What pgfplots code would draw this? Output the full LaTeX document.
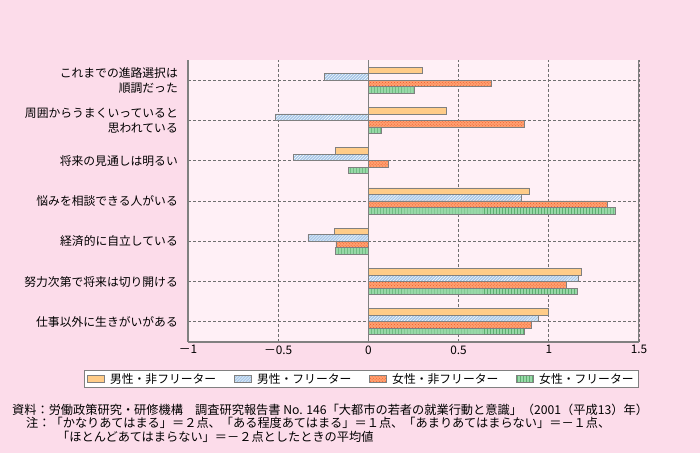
\documentclass[border=0pt]{standalone}
\usepackage{pgfplots}
\pgfplotsset{compat=1.18}
\usetikzlibrary{patterns}
\usepackage{fontspec}
\setmainfont{Noto Sans CJK JP}
\definecolor{pagebg}{HTML}{FCDCEA}
\definecolor{plotbg}{HTML}{FFF0F6}
\definecolor{c1}{HTML}{FFCC88}
\definecolor{c2}{HTML}{A8C8E8}
\definecolor{c3}{HTML}{FFA070}
\definecolor{c3d}{HTML}{EE5A2A}
\definecolor{c4}{HTML}{98D8A8}
\definecolor{c4d}{HTML}{5DAF70}
\definecolor{edge}{HTML}{808080}
\definecolor{gridc}{HTML}{707070}
\newcommand{\lblfont}{\fontsize{11.8bp}{15bp}\selectfont}
\newcommand{\notefont}{\fontsize{12.2bp}{15bp}\selectfont}
\begin{document}
\begin{tikzpicture}[x=1bp,y=1bp]
\fill[pagebg] (0,0) rectangle (700,453);
\begin{axis}[
  at={(188bp,111bp)}, anchor=south west, scale only axis,
  width=451bp, height=282bp,
  xmin=-1, xmax=1.5, ymin=-0.5, ymax=6.5,
  axis background/.style={fill=plotbg},
  axis x line*=bottom, axis y line*=left,
  axis line style={edge, line width=1.2bp},
  xbar, bar width=6.5bp,
  xtick={-1,-0.5,0,0.5,1,1.5},
  xticklabels={－1,－0.5,0,0.5,1,1.5},
  ytick={0,1,2,3,4,5,6},
  yticklabels={{仕事以外に生きがいがある},{努力次第で将来は切り開ける},{経済的に自立している},{悩みを相談できる人がいる},{将来の見通しは明るい},{周囲からうまくいっていると\\思われている},{これまでの進路選択は\\順調だった}},
  yticklabel style={align=right, font=\lblfont, inner sep=0pt, xshift=-10bp},
  xticklabel style={font=\lblfont},
  major tick length=0pt,
  grid=major,
  major grid style={gridc, dash pattern=on 3bp off 2bp, line width=0.8bp},
  legend image code/.code={\draw[#1] (0bp,-3.5bp) rectangle (17bp,3.5bp);},
  legend columns=4,
  legend style={at={(1,-0.0993)}, anchor=north east, draw=edge, fill=white,
    line width=0.8bp, font=\lblfont, inner xsep=3bp, inner ysep=1bp,
    /tikz/every odd column/.append style={column sep=3bp},
    /tikz/every even column/.append style={column sep=16bp}},
]
\draw[edge, line width=1bp] (axis cs:0,-0.5) -- (axis cs:0,6.5);
\draw[edge, line width=1.2bp] (rel axis cs:1,0) -- (rel axis cs:1,1);
\addplot[fill=c1, draw=edge, line width=0.8bp, bar shift=9.75bp]
  coordinates {(0.30,6) (0.43,5) (-0.185,4) (0.89,3) (-0.19,2) (1.18,1) (1.00,0)};
\addplot[fill=c2, draw=edge, line width=0.8bp, bar shift=3.25bp,
  postaction={pattern=north east lines, pattern color=white}]
  coordinates {(-0.245,6) (-0.515,5) (-0.415,4) (0.85,3) (-0.335,2) (1.165,1) (0.94,0)};
\addplot[fill=c3, draw=edge, line width=0.8bp, bar shift=-3.25bp,
  postaction={pattern=crosshatch dots, pattern color=c3d}]
  coordinates {(0.68,6) (0.865,5) (0.11,4) (1.325,3) (-0.18,2) (1.10,1) (0.905,0)};
\addplot[fill=c4, draw=edge, line width=0.8bp, bar shift=-9.75bp,
  postaction={pattern=vertical lines, pattern color=c4d}]
  coordinates {(0.255,6) (0.07,5) (-0.11,4) (1.37,3) (-0.185,2) (1.16,1) (0.865,0)};
\legend{男性・非フリーター,男性・フリーター,女性・非フリーター,女性・フリーター}
\end{axis}
\node[anchor=west, font=\notefont, inner sep=0pt] at (12,43) {資料：労働政策研究・研修機構　調査研究報告書 No. 146「大都市の若者の就業行動と意識」（2001（平成13）年）};
\node[anchor=west, font=\notefont, inner sep=0pt] at (26,30) {注：「かなりあてはまる」＝２点、「ある程度あてはまる」＝１点、「あまりあてはまらない」＝－１点、};
\node[anchor=west, font=\notefont, inner sep=0pt] at (57,16) {「ほとんどあてはまらない」＝－２点としたときの平均値};
\end{tikzpicture}
\end{document}
